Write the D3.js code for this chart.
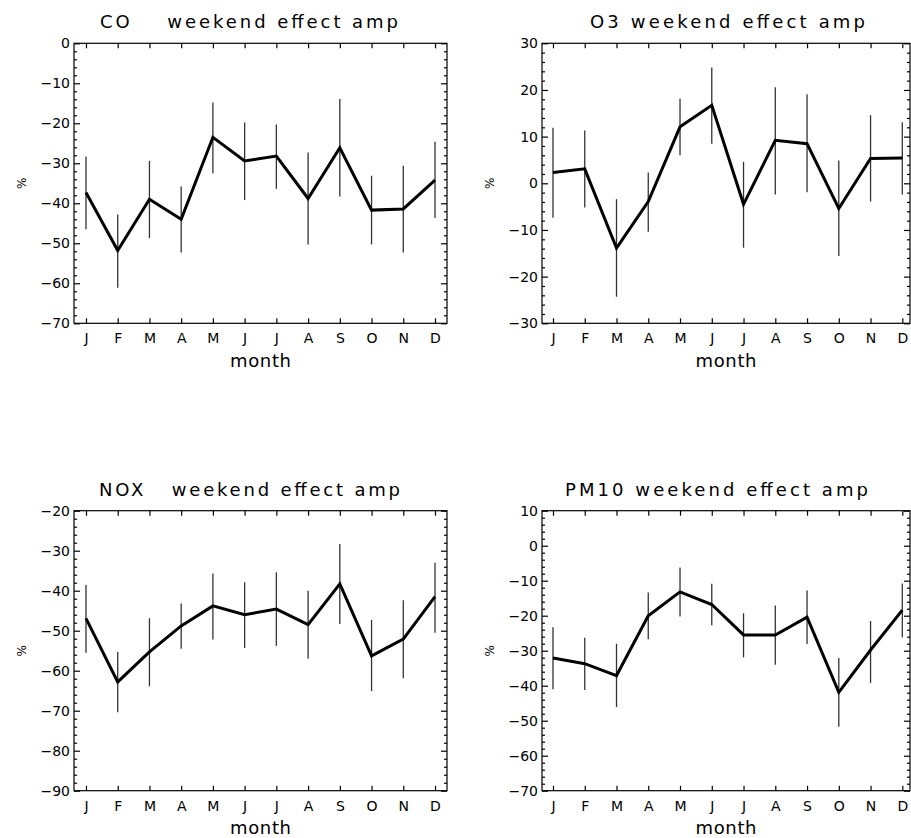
<!DOCTYPE html>
<html>
<head>
<meta charset="utf-8">
<script src="https://cdn.jsdelivr.net/npm/d3@7"></script>
<style>
  body { margin: 0; background: #fff; }
  text { font-family: "DejaVu Sans", sans-serif; fill: #000; }
</style>
</head>
<body>
<div id="chart-holder"></div>
<script>
//****DATA****
const months = ["J", "F", "M", "A", "M", "J", "J", "A", "S", "O", "N", "D"];

// CO
const coMean = [-37.3, -51.8, -39.0, -44.0, -23.5, -29.4, -28.2, -38.8, -26.1, -41.7, -41.4, -34.2];
const coHigh = [-28.3, -42.8, -29.4, -35.8, -14.8, -19.8, -20.3, -27.3, -13.9, -33.1, -30.6, -24.6];
const coLow  = [-46.5, -61.1, -48.7, -52.3, -32.5, -39.2, -36.4, -50.3, -38.3, -50.3, -52.3, -43.7];

// O3
const o3Mean = [2.3, 3.1, -13.9, -3.9, 12.1, 16.7, -4.5, 9.2, 8.5, -5.4, 5.3, 5.4];
const o3High = [11.9, 11.3, -3.4, 2.3, 18.1, 24.8, 4.6, 20.6, 19.1, 4.9, 14.6, 13.1];
const o3Low  = [-7.4, -5.2, -24.3, -10.4, 6.0, 8.5, -13.8, -2.4, -1.9, -15.6, -3.9, -2.4];

// NOX
const noxMean = [-46.9, -62.8, -55.3, -48.8, -43.8, -46.0, -44.6, -48.5, -38.3, -56.3, -52.1, -41.5];
const noxHigh = [-38.6, -55.3, -46.9, -43.2, -35.7, -37.9, -35.4, -40.0, -28.3, -47.3, -42.4, -33.0];
const noxLow  = [-55.5, -70.4, -63.9, -54.5, -52.2, -54.3, -53.8, -57.0, -48.3, -65.1, -61.9, -50.5];

// PM10
const pmMean = [-32.1, -33.7, -37.1, -20.0, -13.2, -16.8, -25.5, -25.5, -20.4, -41.9, -29.8, -18.4];
const pmHigh = [-23.3, -26.3, -28.0, -13.4, -6.2, -10.9, -19.3, -17.1, -12.8, -32.1, -21.5, -10.8];
const pmLow  = [-41.0, -41.2, -46.1, -26.7, -20.2, -22.7, -31.9, -34.0, -28.1, -51.7, -39.2, -26.2];

const titles = ["CO    weekend effect amp", "O3 weekend effect amp",
                "NOX   weekend effect amp", "PM10 weekend effect amp"];
const yDomains = [[-70, 0], [-30, 30], [-90, -20], [-70, 10]];

//****LAYOUT****
const width = 911;
const height = 838;
const cols = [{x0: 74, x1: 447, dom: [-0.378, 11.378]},
              {x0: 542, x1: 910, dom: [-0.346, 11.242]}];
const rows = [{y0: 43.3, y1: 323.3}, {y0: 510.7, y1: 790.7}];
// title start offset from plot left, and title width
const titleBox = [{dx: 26, w: 298}, {dx: 48, w: 275}, {dx: 25, w: 301}, {dx: 23, w: 303}];

const panels = [
    {mean: coMean, hi: coHigh, lo: coLow, col: 0, row: 0},
    {mean: o3Mean, hi: o3High, lo: o3Low, col: 1, row: 0},
    {mean: noxMean, hi: noxHigh, lo: noxLow, col: 0, row: 1},
    {mean: pmMean, hi: pmHigh, lo: pmLow, col: 1, row: 1}
];

const svg = d3.select('#chart-holder')
    .append('svg')
    .attr('width', width)
    .attr('height', height)
    .style('display', 'block');

svg.append('rect').attr('width', width).attr('height', height).attr('fill', '#fff');

panels.forEach(function(p, i) {
    const c = cols[p.col], r = rows[p.row];
    const w = c.x1 - c.x0, h = r.y1 - r.y0;

    const xScale = d3.scaleLinear().domain(c.dom).range([0, w]);
    const yScale = d3.scaleLinear().domain(yDomains[i]).range([h, 0]);

    const g = svg.append('g').attr('transform', `translate(${c.x0}, ${r.y0})`);

    // frame
    g.append('rect')
        .attr('width', w).attr('height', h)
        .attr('fill', 'none').attr('stroke', '#000').attr('stroke-width', 1.2);

    const idx = d3.range(12);
    const majors = d3.range(yDomains[i][0], yDomains[i][1] + 1, 10);
    const minors = d3.range(yDomains[i][0], yDomains[i][1], 2).filter(v => (v - yDomains[i][0]) % 10 !== 0);

    // left axis with labels
    const yAx = g.append('g')
        .call(d3.axisLeft(yScale).tickValues(majors).tickSize(-6).tickSizeOuter(0).tickPadding(4));
    yAx.selectAll('text').style('font-size', '14px').attr('fill', '#000');
    g.append('g')
        .call(d3.axisLeft(yScale).tickValues(minors).tickSize(-3).tickSizeOuter(0).tickFormat(''));
    // right axis
    g.append('g').attr('transform', `translate(${w}, 0)`)
        .call(d3.axisRight(yScale).tickValues(majors).tickSize(-6).tickSizeOuter(0).tickFormat(''));
    g.append('g').attr('transform', `translate(${w}, 0)`)
        .call(d3.axisRight(yScale).tickValues(minors).tickSize(-3).tickSizeOuter(0).tickFormat(''));
    // bottom axis with month letters
    const xAx = g.append('g').attr('transform', `translate(0, ${h})`)
        .call(d3.axisBottom(xScale).tickValues(idx).tickSize(-5).tickSizeOuter(0)
            .tickPadding(10).tickFormat(d => months[d]));
    xAx.selectAll('text').style('font-size', '14px').attr('fill', '#000');
    // top axis
    g.append('g')
        .call(d3.axisTop(xScale).tickValues(idx).tickSize(-5).tickSizeOuter(0).tickFormat(''));

    g.selectAll('.domain').remove();
    g.selectAll('.tick line').attr('stroke', '#000').attr('stroke-width', 1.2);

    // error bars
    g.append('g').selectAll('line')
        .data(idx)
        .enter()
        .append('line')
        .attr('x1', d => xScale(d)).attr('x2', d => xScale(d))
        .attr('y1', d => yScale(p.hi[d])).attr('y2', d => yScale(p.lo[d]))
        .attr('stroke', '#333').attr('stroke-width', 1.3);

    // mean line
    const line = d3.line()
        .x((d, k) => xScale(k))
        .y(d => yScale(d));
    g.append('path')
        .datum(p.mean)
        .attr('d', line)
        .attr('fill', 'none')
        .attr('stroke', '#000')
        .attr('stroke-width', 3)
        .attr('stroke-linejoin', 'miter');

    // title
    g.append('text')
        .attr('x', titleBox[i].dx)
        .attr('y', -15)
        .attr('xml:space', 'preserve')
        .style('white-space', 'pre')
        .style('font-size', '18px')
        .attr('textLength', titleBox[i].w)
        .attr('lengthAdjust', 'spacing')
        .text(titles[i]);

    // x label
    g.append('text')
        .attr('x', w / 2 + (p.col === 1 ? 0 : 0))
        .attr('y', h + 43.4)
        .attr('text-anchor', 'middle')
        .style('font-size', '18px')
        .attr('textLength', 61)
        .attr('lengthAdjust', 'spacing')
        .text('month');

    // y label
    g.append('text')
        .attr('transform', `translate(-48, ${h / 2}) rotate(-90)`)
        .attr('text-anchor', 'middle')
        .style('font-size', '12px')
        .text('%');
});
</script>
</body>
</html>
